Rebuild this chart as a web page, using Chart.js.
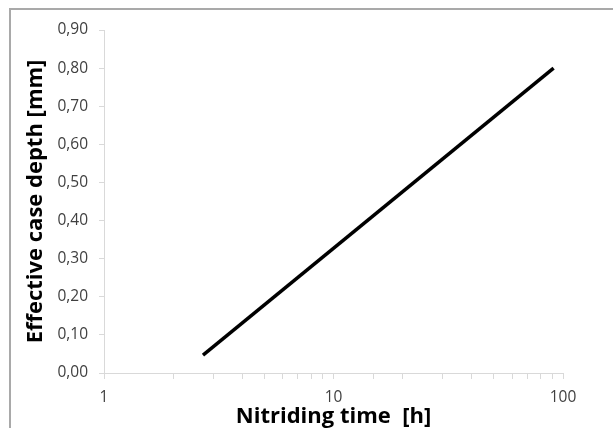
<!DOCTYPE html>
<html>
<head>
<meta charset="utf-8">
<script src="https://cdn.jsdelivr.net/npm/chart.js@4"></script>
<style>
  html, body { margin: 0; padding: 0; background: #ffffff; }
  #wrap { position: relative; width: 613px; height: 428px; overflow: hidden; }
  #frame { position: absolute; left: 9px; top: 8px; width: 700px; height: 500px; border: 2px solid #a9a9a9; box-sizing: border-box; }
  #c { position: absolute; left: 0; top: 0; }
</style>
</head>
<body>
<div id="wrap">
  <div id="frame"></div>
  <canvas id="c" width="613" height="428"></canvas>
</div>
<script>
// Data
const timeHours = [2.7, 91];          // Nitriding time [h]
const caseDepth = [0.047, 0.80];      // Effective case depth [mm]
const xLabelTicks = [1, 10, 100];     // labelled decades
const yMin = 0, yMax = 0.9, yStep = 0.1;
const xTitle = 'Nitriding time  [h]';
const yTitle = 'Effective case depth [mm]';

const points = timeHours.map((t, i) => ({ x: t, y: caseDepth[i] }));
const FONT = '"Open Sans", "Liberation Sans", sans-serif';
const axisGray = '#d9d9d9';

new Chart(document.getElementById('c'), {
  type: 'line',
  data: {
    datasets: [{
      data: points,
      borderColor: '#000000',
      borderWidth: 3.5,
      borderCapStyle: 'butt',
      pointRadius: 0,
      fill: false,
      tension: 0
    }]
  },
  options: {
    responsive: false,
    animation: false,
    devicePixelRatio: 1,
    layout: { padding: { top: 30, right: 50, bottom: 0, left: 0 } },
    plugins: { legend: { display: false }, tooltip: { enabled: false } },
    scales: {
      x: {
        type: 'logarithmic',
        min: 1, max: 100,
        border: { display: true, color: axisGray, width: 1 },
        grid: { drawOnChartArea: false, drawTicks: true, tickLength: 6, color: axisGray },
        ticks: {
          autoSkip: false, maxRotation: 0, minRotation: 0,
          padding: 9,
          color: '#404040',
          font: { family: FONT, size: 15.5 },
          callback: (v) => xLabelTicks.includes(v) ? String(v) : ''
        },
        title: {
          display: true, text: xTitle, color: '#000000',
          font: { family: FONT, size: 22, weight: 'bold', lineHeight: 1 },
          padding: { top: 0, bottom: 0 }
        },
        afterFit: (s) => { s.height = 55; }
      },
      y: {
        type: 'linear',
        min: yMin, max: yMax,
        border: { display: true, color: axisGray, width: 1 },
        grid: { drawOnChartArea: false, drawTicks: true, tickLength: 5, color: axisGray },
        ticks: {
          stepSize: yStep,
          padding: 11,
          color: '#404040',
          font: { family: FONT, size: 15.5 },
          callback: (v) => Number(v).toFixed(2).replace('.', ',')
        },
        title: {
          display: true, text: yTitle, color: '#000000',
          font: { family: FONT, size: 22, weight: 'bold', lineHeight: 1 },
          padding: { top: 25, bottom: 0 }
        },
        afterFit: (s) => { s.width = 104; }
      }
    }
  }
});
</script>
</body>
</html>
